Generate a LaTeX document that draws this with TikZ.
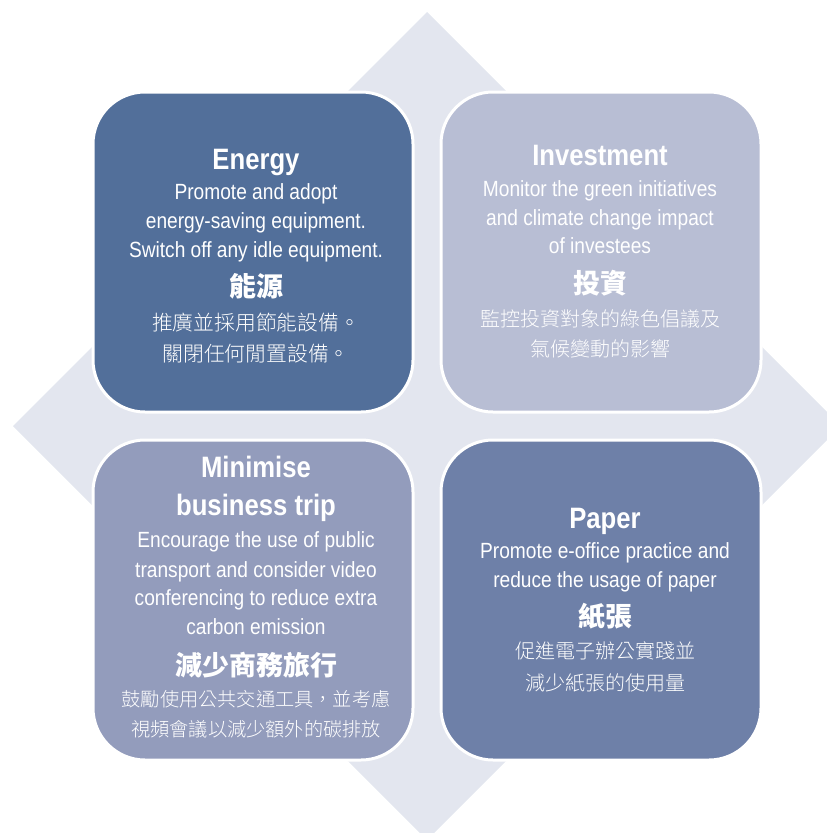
\documentclass[tikz,border=0pt]{standalone}
\usepackage{fontspec}
\setmainfont{Liberation Sans}[FakeStretch=0.87]
\newfontfamily\cjk{Noto Sans CJK TC}
\IfFontExistsTF{Noto Sans CJK TC Light}
  {\newfontfamily\cjklight{Noto Sans CJK TC Light}}
  {\newfontfamily\cjklight{Noto Sans CJK TC}}
\definecolor{diam}{HTML}{E3E6EF}
\definecolor{cenergy}{HTML}{526F9A}
\definecolor{cinvest}{HTML}{B8BED4}
\definecolor{cmin}{HTML}{939CBC}
\definecolor{cpaper}{HTML}{6E80A8}
\tikzset{
  ttl/.style={anchor=base, inner sep=0pt, text=white, font=\fontsize{29.5}{30}\selectfont\bfseries},
  txt/.style={anchor=base, inner sep=0pt, text=white, font=\fontsize{22}{24}\selectfont},
  chead/.style={anchor=base, inner sep=0pt, text=white, font=\cjk\bfseries\fontsize{27}{28}\selectfont},
  cbody/.style={anchor=base, inner sep=0pt, text=white, font=\cjklight\fontsize{20}{22}\selectfont},
  box/.style={rectangle, draw=white, line width=3pt, rounded corners=52pt,
    minimum width=320pt, minimum height=320pt, inner sep=0pt}
}
\begin{document}
\begin{tikzpicture}[x=1pt,y=-1pt]
\clip (0,0) rectangle (827,833);
\fill[diam] (427,12) -- (841,426) -- (427,840) -- (13,426) -- cycle;
% boxes
\node[box, fill=cenergy] (energy) at (253,252) {};
\node[box, fill=cinvest] (invest) at (601,252) {};
\node[box, fill=cmin] (minim) at (253,600) {};
\node[box, fill=cpaper] (paper) at (601,600) {};
% Energy
\node[ttl] (e1) at (256,169) {Energy};
\node[txt] (e2) at (256,199) {Promote and adopt};
\node[txt] (e3) at (256,228) {energy-saving equipment.};
\node[txt] (e4) at (256,257) {Switch off any idle equipment.};
\node[chead] (e5) at (256,296) {能源};
\node[cbody, font=\cjklight\fontsize{20.8}{22}\selectfont] (e6) at (256,330) {推廣並採用節能設備。};
\node[cbody, font=\cjklight\fontsize{20.8}{22}\selectfont] (e7) at (256,361) {關閉任何閒置設備。};
% Investment
\node[ttl] (i1) at (600,165) {Investment};
\node[txt] (i2) at (600,196) {Monitor the green initiatives};
\node[txt] (i3) at (600,225) {and climate change impact};
\node[txt] (i4) at (600,253) {of investees};
\node[chead] (i5) at (600,293) {投資};
\node[cbody] (i6) at (600,326) {監控投資對象的綠色倡議及};
\node[cbody] (i7) at (600,356) {氣候變動的影響};
% Minimise
\node[ttl] (m1) at (256,477) {Minimise};
\node[ttl] (m2) at (256,515) {business trip};
\node[txt] (m3) at (256,547) {Encourage the use of public};
\node[txt] (m4) at (256,577) {transport and consider video};
\node[txt] (m5) at (256,605) {conferencing to reduce extra};
\node[txt] (m6) at (256,634) {carbon emission};
\node[chead] (m7) at (256,675) {減少商務旅行};
\node[cbody, font=\cjklight\fontsize{19.2}{21}\selectfont] (m8) at (256,706) {鼓勵使用公共交通工具，並考慮};
\node[cbody, font=\cjklight\fontsize{19.2}{21}\selectfont] (m9) at (256,736) {視頻會議以減少額外的碳排放};
% Paper
\node[ttl] (p1) at (605,528) {Paper};
\node[txt] (p2) at (605,558) {Promote e-office practice and};
\node[txt] (p3) at (605,587) {reduce the usage of paper};
\node[chead] (p4) at (605,626) {紙張};
\node[cbody] (p5) at (605,658) {促進電子辦公實踐並};
\node[cbody] (p6) at (605,690) {減少紙張的使用量};
\end{tikzpicture}
\end{document}
